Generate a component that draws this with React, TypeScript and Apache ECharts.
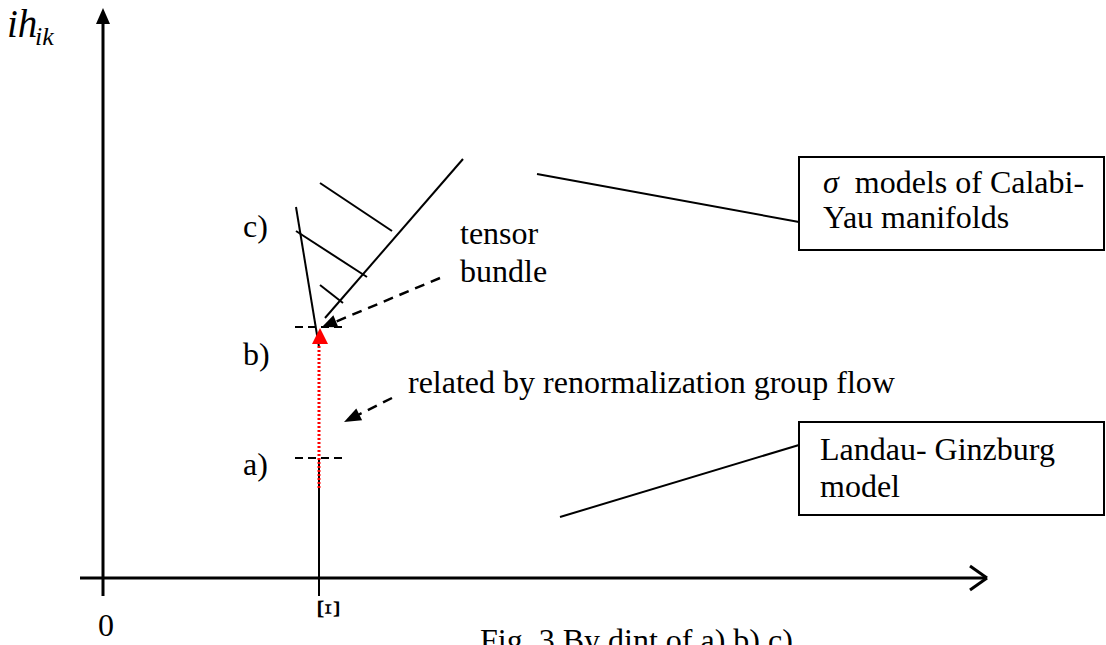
import React, { useEffect, useRef } from "react";
import * as echarts from "echarts";

// Diagram coordinates: origin at the crossing of the two axes, x to the right, y upward.
const X_RANGE = [-103, 1003];
const Y_RANGE = [-67, 578];

// [x1, y1, x2, y2]
const axisSegments = [
  [0, -18, 0, 556],
  [-23, 0, 884, 0],
  [867, 12, 884, 0],
  [867, -12, 884, 0],
];
const thinSegments = [
  [216, 120, 216, -18],
  [193, 371, 216, 231],
  [222, 260, 360, 419],
  [217, 395, 289, 347],
  [193, 347, 264, 301],
  [217, 293, 240, 275],
  [434, 404, 696, 356],
  [457, 61, 696, 133],
];
const levelDashes = [
  [192, 251, 240, 251],
  [192, 120, 240, 120],
];
const pointerDashes = [
  [337, 300, 232, 256],
  [289, 180, 255, 163],
];
const flowLine = [[216, 90, 216, 234]];
// [tipX, tipY, fromX, fromY, length, width, colorIndex]
const arrowHeads = [
  [0, 570, 0, 0, 16, 14, 0],
  [217, 250, 217, 0, 16, 16, 1],
  [219, 251, 337, 300, 15, 13, 0],
  [241, 156, 289, 180, 17, 13, 0],
];
const arrowColors = ["#000000", "#ff0000"];
// [x1, y1, x2, y2]
const boxes = [
  [696, 421, 1001, 328],
  [696, 156, 1001, 63],
];

const labelTexts = [
  "c)",
  "b)",
  "a)",
  "tensor",
  "bundle",
  "related by renormalization group flow",
  "{s|σ}  models of Calabi-",
  "Yau manifolds",
  "Landau- Ginzburg",
  "model",
  "0",
  "Ξ",
  "Fig. 3 By dint of a) b) c)",
  "{b|ih}",
  "{c|ik}",
];
const labelX = [140, 140, 140, 357, 357, 305, 720, 720, 717, 717, 3, 226, 377, -96, -68];
const labelY = [352, 224, 114, 345, 307, 196, 396, 361, 129, 92, -47, -31, -62, 555, 542];

const FONT = "'Liberation Serif', 'Times New Roman', serif";

function segmentSeries(data: number[][], color: string, width: number, dash?: number[]) {
  return {
    type: "custom",
    coordinateSystem: "cartesian2d",
    clip: false,
    silent: true,
    encode: { x: [0, 2], y: [1, 3] },
    data,
    renderItem: (_p: any, api: any) => {
      const a = api.coord([api.value(0), api.value(1)]);
      const b = api.coord([api.value(2), api.value(3)]);
      return {
        type: "line",
        shape: { x1: a[0], y1: a[1], x2: b[0], y2: b[1] },
        style: { stroke: color, lineWidth: width, lineDash: dash || null, fill: null },
      };
    },
  };
}

export default function App() {
  const ref = useRef<HTMLDivElement>(null);
  useEffect(() => {
    if (!ref.current) return;
    const chart = echarts.init(ref.current, undefined, { renderer: "svg" });
    const option: any = {
      animation: false,
      backgroundColor: "#ffffff",
      grid: { left: 0, right: 0, top: 0, bottom: 0 },
      xAxis: { type: "value", min: X_RANGE[0], max: X_RANGE[1], show: false },
      yAxis: { type: "value", min: Y_RANGE[0], max: Y_RANGE[1], show: false },
      series: [
        segmentSeries(axisSegments, "#000000", 3),
        segmentSeries(thinSegments, "#000000", 2),
        segmentSeries(levelDashes, "#000000", 2, [8, 5]),
        segmentSeries(pointerDashes, "#000000", 2.5, [10, 7]),
        segmentSeries(flowLine, "#ff0000", 3, [2, 2]),
        {
          type: "custom",
          coordinateSystem: "cartesian2d",
          clip: false,
          silent: true,
          encode: { x: [0, 2], y: [1, 3] },
          data: boxes,
          renderItem: (_p: any, api: any) => {
            const a = api.coord([api.value(0), api.value(1)]);
            const b = api.coord([api.value(2), api.value(3)]);
            return {
              type: "rect",
              shape: { x: a[0], y: a[1], width: b[0] - a[0], height: b[1] - a[1] },
              style: { stroke: "#000000", lineWidth: 2, fill: "#ffffff" },
            };
          },
        },
        {
          type: "custom",
          coordinateSystem: "cartesian2d",
          clip: false,
          silent: true,
          encode: { x: [0, 2], y: [1, 3] },
          data: arrowHeads,
          renderItem: (_p: any, api: any) => {
            const t = api.coord([api.value(0), api.value(1)]);
            const f = api.coord([api.value(2), api.value(3)]);
            const len = api.value(4);
            const w = api.value(5);
            const color = arrowColors[api.value(6)];
            let dx = t[0] - f[0];
            let dy = t[1] - f[1];
            const d = Math.sqrt(dx * dx + dy * dy) || 1;
            dx /= d;
            dy /= d;
            const bx = t[0] - dx * len;
            const by = t[1] - dy * len;
            const nx = -dy * (w / 2);
            const ny = dx * (w / 2);
            return {
              type: "polygon",
              shape: { points: [[t[0], t[1]], [bx + nx, by + ny], [bx - nx, by - ny]] },
              style: { fill: color, stroke: null },
            };
          },
        },
        {
          type: "custom",
          coordinateSystem: "cartesian2d",
          clip: false,
          silent: true,
          data: labelX.map((x, i) => [x, labelY[i], i]),
          renderItem: (_p: any, api: any) => {
            const i = api.value(2);
            const p = api.coord([api.value(0), api.value(1)]);
            const text = labelTexts[i];
            const size = 32;
            let align = "left";
            let rotation = 0;
            if (i === 10 || i === 11) align = "center";
            if (i === 11) rotation = -Math.PI / 2;
            return {
              type: "text",
              x: p[0],
              y: p[1],
              rotation,
              style: {
                text,
                fill: "#000000",
                font: `${size}px ${FONT}`,
                fontSize: size,
                fontFamily: FONT,
                align,
                textAlign: align,
                verticalAlign: "middle",
                textVerticalAlign: "middle",
                rich: {
                  s: { fontStyle: "italic", fontSize: 32, fontFamily: FONT, fill: "#000" },
                  b: { fontStyle: "italic", fontSize: 39, fontFamily: FONT, fill: "#000" },
                  c: { fontStyle: "italic", fontSize: 26, fontFamily: FONT, fill: "#000" },
                },
              },
            };
          },
        },
      ],
    };
    chart.setOption(option);
    return () => chart.dispose();
  }, []);
  return (
    <div
      ref={ref}
      style={{ position: "absolute", left: 0, top: 0, width: 1106, height: 645, background: "#fff" }}
    />
  );
}
